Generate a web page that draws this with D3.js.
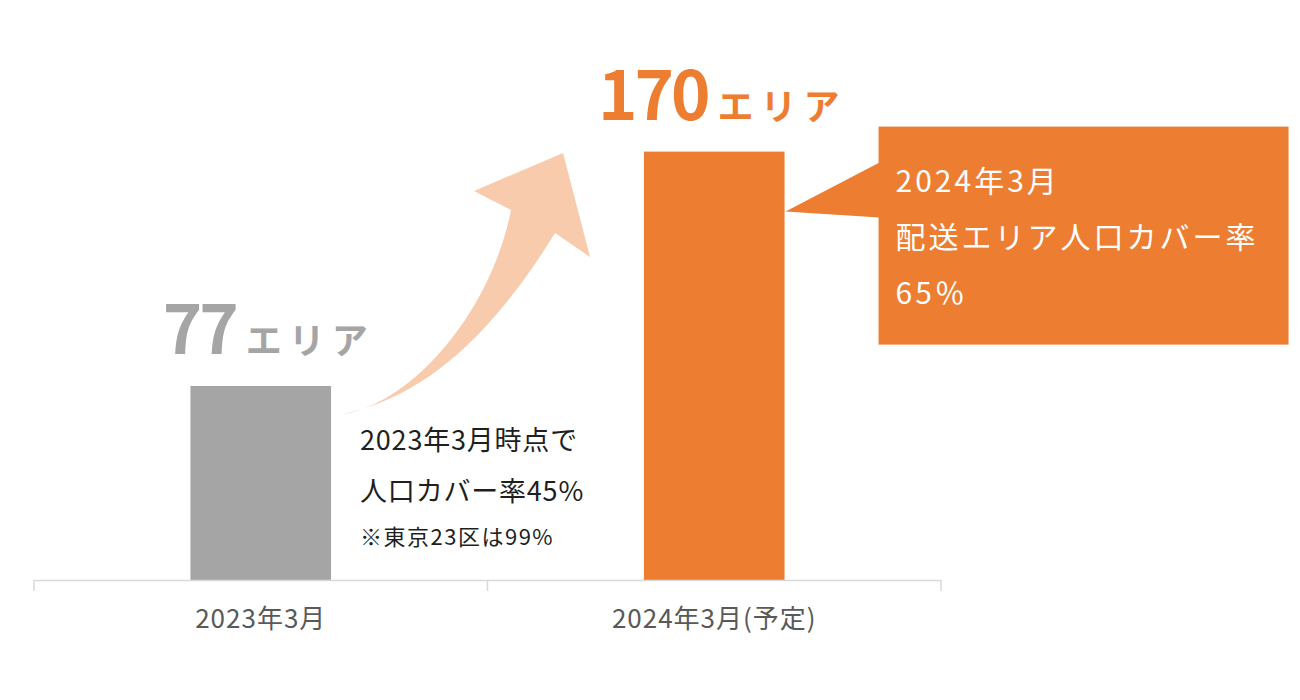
<!DOCTYPE html>
<html>
<head>
<meta charset="utf-8">
<script src="https://cdn.jsdelivr.net/npm/d3@7"></script>
<style>
  body { margin: 0; background: #fff; }
  text { font-family: "Noto Sans CJK JP", "Noto Sans", sans-serif; }
</style>
</head>
<body>
<svg width="1300" height="700"></svg>
<script>
const categories = ["2023年3月", "2024年3月(予定)"];
const areaCounts = [77, 170];
const barColors = ["#a5a5a5", "#ed7d31"];
const unitLabel = "エリア";
const noteLines = ["2023年3月時点で", "人口カバー率45%", "※東京23区は99%"];
const calloutLines = ["2024年3月", "配送エリア人口カバー率", "65％"];

const data = categories.map((c, i) => ({name: c, value: areaCounts[i], color: barColors[i]}));

const svg = d3.select("svg");
const margin = {top: 76, bottom: 120, left: 34, right: 359};
const width = 1300, height = 700;

const x = d3.scaleBand()
    .domain(categories)
    .range([margin.left, width - margin.right])
    .paddingInner(0.69)
    .paddingOuter(0.345);

const y = d3.scaleLinear()
    .domain([0, 200])
    .range([height - margin.bottom, margin.top]);

// bars
svg.selectAll("rect.bar")
    .data(data)
    .enter()
    .append("rect")
    .attr("class", "bar")
    .attr("x", d => x(d.name))
    .attr("y", d => y(d.value))
    .attr("width", x.bandwidth())
    .attr("height", d => y(0) - y(d.value))
    .attr("fill", d => d.color);

// axis: labels only, then domain line + band boundary ticks
const xAxis = d3.axisBottom(x).tickSize(0).tickPadding(30);
const xAxisGroup = svg.append("g")
    .attr("class", "xAxis")
    .attr("transform", `translate(0, ${y(0)})`)
    .call(xAxis);
xAxisGroup.select(".domain").remove();
xAxisGroup.selectAll("text")
    .attr("fill", "#595959")
    .style("font-size", "26px")
    .style("letter-spacing", "1px");

const step = x.step();
const bounds = d3.range(categories.length + 1).map(i => margin.left + i * step);
svg.append("line")
    .attr("x1", bounds[0]).attr("x2", bounds[bounds.length - 1])
    .attr("y1", y(0) + 0.5).attr("y2", y(0) + 0.5)
    .attr("stroke", "#d9d9d9").attr("stroke-width", 1.5);
svg.selectAll("line.btick")
    .data(bounds)
    .enter()
    .append("line")
    .attr("class", "btick")
    .attr("x1", d => d).attr("x2", d => d)
    .attr("y1", y(0)).attr("y2", y(0) + 11)
    .attr("stroke", "#d9d9d9").attr("stroke-width", 1.5);

// value labels above bars
const labels = svg.selectAll("text.value")
    .data(data)
    .enter()
    .append("text")
    .attr("class", "value")
    .attr("x", d => x(d.name) + x.bandwidth() / 2 + 8)
    .attr("y", d => y(d.value) - 32)
    .attr("text-anchor", "middle")
    .attr("fill", d => d.color)
    .style("font-weight", "700");
labels.append("tspan")
    .style("font-size", "67px")
    .style("letter-spacing", "-3px")
    .text(d => d.value);
labels.append("tspan")
    .attr("dx", 10)
    .style("font-size", "36px")
    .style("letter-spacing", "7px")
    .text(unitLabel);

// curved growth arrow from the first bar to the second
const tailX = x(categories[0]) + x.bandwidth() + 9;
const tailY = y(areaCounts[0]) + 29;
const arrowPath = "M0,0 C70,-15 140,-60 215,-182 L250,-158 L223,-262 L134,-224 L171,-205 C150,-100 70,-10 0,0 Z";
svg.append("path")
    .attr("d", arrowPath)
    .attr("transform", `translate(${tailX}, ${tailY})`)
    .attr("fill", "#f8cbad");

// note next to first bar
const noteX = x(categories[0]) + x.bandwidth() + 29;
const noteBase = y(areaCounts[0]);
const noteOffsets = [64, 115, 159];
const noteSizes = [27, 27, 22];
const noteSpacing = [0.8, 0.8, 1.5];
svg.selectAll("text.note")
    .data(noteLines)
    .enter()
    .append("text")
    .attr("class", "note")
    .attr("x", noteX)
    .attr("y", (d, i) => noteBase + noteOffsets[i])
    .attr("fill", "#1f1f1f")
    .style("font-size", (d, i) => noteSizes[i] + "px")
    .style("letter-spacing", (d, i) => noteSpacing[i] + "px")
    .text(d => d);

// callout box for second bar
const barRight = x(categories[1]) + x.bandwidth();
const boxX = barRight + 94, boxY = y(areaCounts[1]) - 25;
const boxW = 410, boxH = 218;
svg.append("rect")
    .attr("x", boxX).attr("y", boxY)
    .attr("width", boxW).attr("height", boxH)
    .attr("fill", barColors[1]);
svg.append("path")
    .attr("d", `M${boxX + 1},${boxY + 36} L${barRight + 1},${boxY + 85} L${boxX + 1},${boxY + 91} Z`)
    .attr("fill", barColors[1]);
svg.selectAll("text.callout")
    .data(calloutLines)
    .enter()
    .append("text")
    .attr("class", "callout")
    .attr("x", boxX + 17)
    .attr("y", (d, i) => boxY + 65 + i * 56)
    .attr("fill", "#fff")
    .style("font-size", "30px")
    .style("letter-spacing", "3px")
    .text(d => d);
</script>
</body>
</html>
